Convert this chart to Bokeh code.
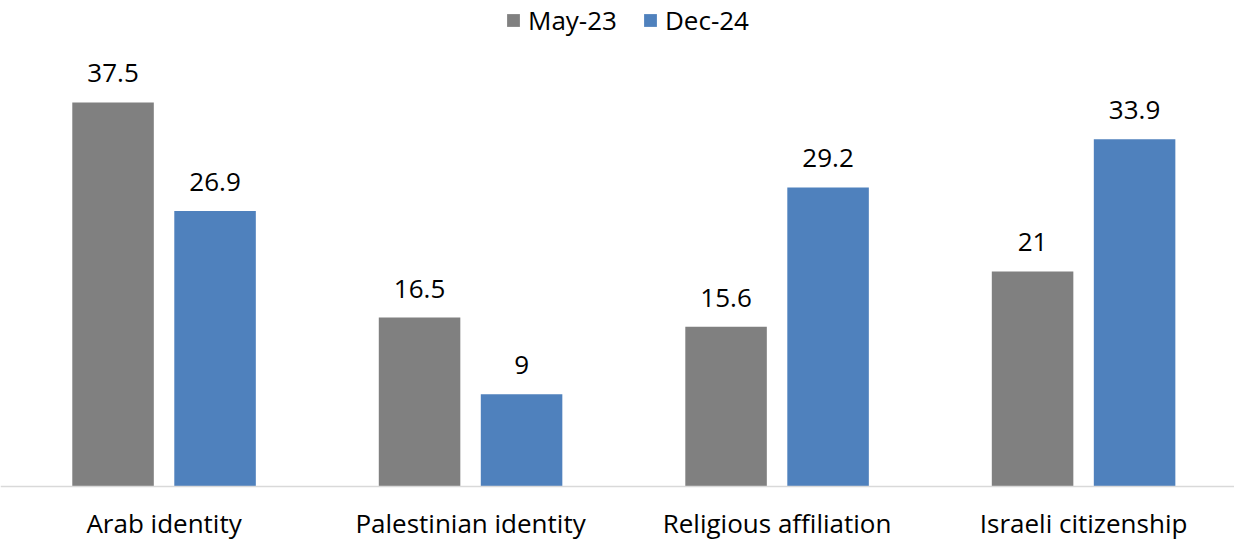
from bokeh.plotting import figure
from bokeh.models import ColumnDataSource, FactorRange, Range1d, Legend, LegendItem, LabelSet, Span
from bokeh.transform import dodge
from bokeh.core.properties import value
from bokeh.embed import file_html
from bokeh.resources import INLINE

categories = ["Arab identity", "Palestinian identity", "Religious affiliation", "Israeli citizenship"]
may23 = [37.5, 16.5, 15.6, 21]
dec24 = [26.9, 9, 29.2, 33.9]
may23_labels = ["37.5", "16.5", "15.6", "21"]
dec24_labels = ["26.9", "9", "29.2", "33.9"]

FONT = "Open Sans"
FS = "26px"
src = ColumnDataSource(dict(cat=categories, may=may23, dec=dec24, ml=may23_labels, dl=dec24_labels))

p = figure(x_range=FactorRange(*categories, range_padding=0.013, range_padding_units="absolute"),
           y_range=Range1d(-5.27, 47.46),
           width=1234, height=540, output_backend="svg", toolbar_location=None,
           min_border_left=0, min_border_right=0, min_border_top=0, min_border_bottom=0)
p.outline_line_color = None
p.grid.grid_line_color = None
p.xaxis.visible = False
p.yaxis.visible = False

SH = 0.0206
OFF = 0.1664
W = 0.266

r1 = p.vbar(x=dodge("cat", SH - OFF, range=p.x_range), top="may", width=W, source=src,
            fill_color="#808080", line_color=None)
r2 = p.vbar(x=dodge("cat", SH + OFF, range=p.x_range), top="dec", width=W, source=src,
            fill_color="#4f81bd", line_color=None)

for xo, col, lab in [(SH - OFF, "may", "ml"), (SH + OFF, "dec", "dl")]:
    ls = LabelSet(x=dodge("cat", xo, range=p.x_range), y=col, text=lab, source=src,
                  text_align="center", text_baseline="alphabetic", y_offset=20,
                  text_font=value(FONT), text_font_size=FS, text_color="#000000")
    p.add_layout(ls)

p.add_layout(Span(location=0, dimension="width", line_color="#d9d9d9", line_width=1.5))

cat_labels = LabelSet(x=dodge("cat", SH, range=p.x_range), y=0, y_offset=-46, text="cat", source=src,
                      text_align="center", text_baseline="alphabetic",
                      text_font=value(FONT), text_font_size=FS, text_color="#000000")
p.add_layout(cat_labels)

legend = Legend(items=[LegendItem(label="May-23", renderers=[r1]), LegendItem(label="Dec-24", renderers=[r2])],
                location=(505, 502), orientation="horizontal",
                label_text_font=FONT, label_text_font_size="26px", label_text_color="#000000",
                glyph_width=16, glyph_height=16, spacing=25, label_standoff=7,
                border_line_color=None, background_fill_alpha=0, margin=0, padding=0)
p.add_layout(legend)

open("out.html", "w").write(file_html(p, INLINE))
